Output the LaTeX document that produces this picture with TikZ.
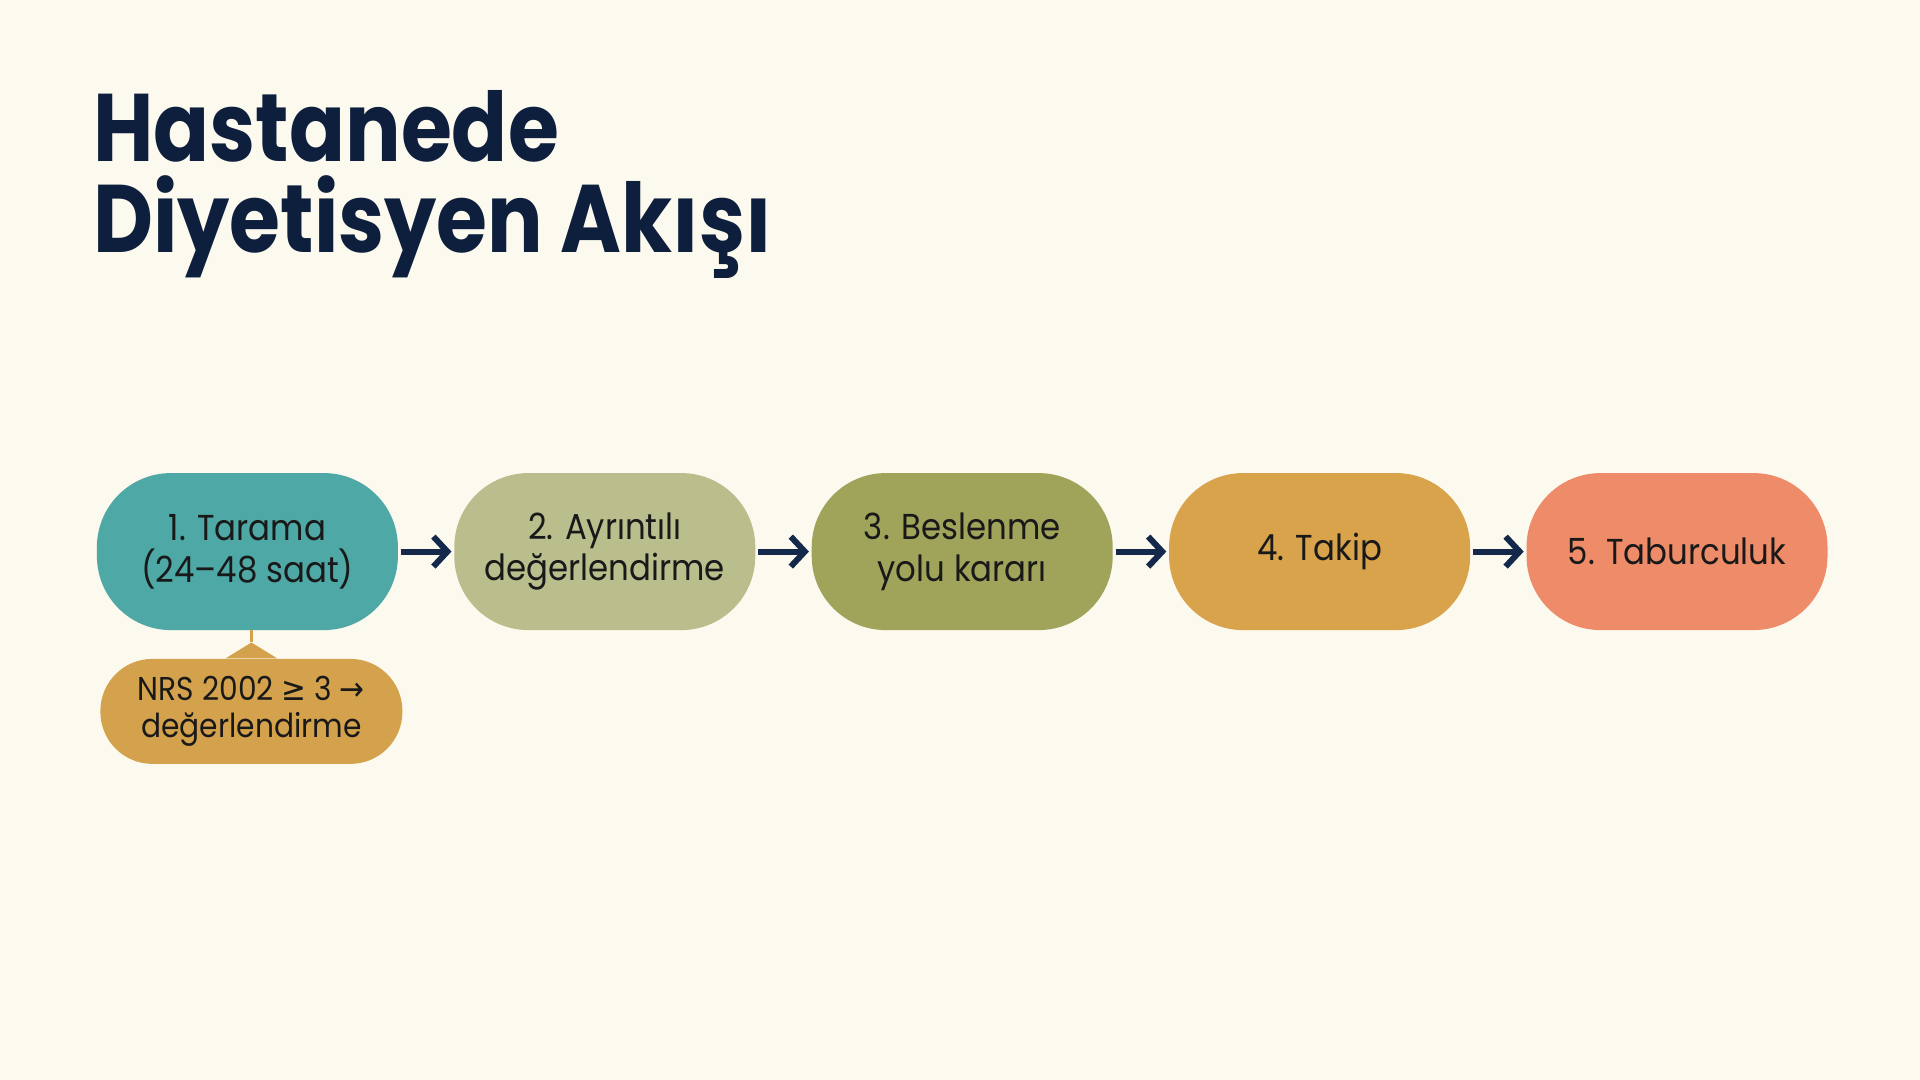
\documentclass[tikz,border=0pt]{standalone}
\usepackage{fontspec}
\setmainfont{Poppins}[FakeStretch=0.9]
\newfontfamily\titlefont{Poppins Bold}[FakeStretch=0.86]
\newfontfamily\symfont{DejaVu Sans}[FakeStretch=0.9]
\usetikzlibrary{arrows.meta, positioning, calc}

\definecolor{bgcream}{HTML}{FCF9EE}
\definecolor{titlenavy}{HTML}{0E1F3D}
\definecolor{arrownavy}{HTML}{13284A}
\definecolor{teal1}{HTML}{4EA8A5}
\definecolor{sage2}{HTML}{B9BE8C}
\definecolor{olive3}{HTML}{A0A45B}
\definecolor{gold4}{HTML}{D8A34B}
\definecolor{coral5}{HTML}{EE8B69}
\definecolor{callgold}{HTML}{D4A24C}

\begin{document}
\begin{tikzpicture}[x=1pt,y=1pt,
  stepbox/.style={rectangle, rounded corners=37pt, minimum width=150.5pt,
    minimum height=78.5pt, inner sep=0pt, align=center, text=black!90,
    font=\fontsize{18}{20.8}\selectfont},
  notebox/.style={rectangle, rounded corners=26pt, minimum width=151pt,
    minimum height=52.5pt, inner sep=0pt, align=center, text=black!90,
    fill=callgold, font=\fontsize{16.5}{18.5}\selectfont},
  flowarrow/.style={-{Straight Barb[length=7pt,width=15pt]}, line width=3pt,
    draw=arrownavy, shorten <=1.2pt, shorten >=1.2pt},
  node distance=27.8pt]
  % background
  \useasboundingbox[fill=bgcream] (0,0) rectangle (960,540);
  % title
  \node[anchor=base west, inner sep=0pt, align=left, text=titlenavy,
    font=\fontsize{48}{45.5}\selectfont\titlefont] (title) at (46.5,413.6)
    {Hastanede\\Diyetisyen Akışı};
  % steps
  \node[stepbox, fill=teal1] (t1) at (123.7,264.2) {1. Tarama\\(24–48 saat)};
  \node[stepbox, fill=sage2, right=of t1] (t2) {2. Ayrıntılı\\değerlendirme};
  \node[stepbox, fill=olive3, right=of t2] (t3) {3. Beslenme\\yolu kararı};
  \node[stepbox, fill=gold4, right=of t3] (t4) {4. Takip};
  \node[stepbox, fill=coral5, right=of t4] (t5) {5. Taburculuk};
  % arrows
  \foreach \a/\b in {t1/t2, t2/t3, t3/t4, t4/t5}
    \draw[flowarrow] (\a.east) -- (\b.west);
  % callout under step 1
  \node[notebox, below=14pt of t1, xshift=2pt] (nrs)
    {NRS 2002 {\symfont ≥} 3 {\symfont →}\\değerlendirme};
  \coordinate (tip) at ($(nrs.north)+(0,8)$);
  \fill[callgold] (tip) -- ($(nrs.north)+(-13,0)$) -- ($(nrs.north)+(13,0)$) -- cycle;
  \draw[callgold, line width=1.5pt] (tip) -- (tip |- t1.south);
\end{tikzpicture}
\end{document}
